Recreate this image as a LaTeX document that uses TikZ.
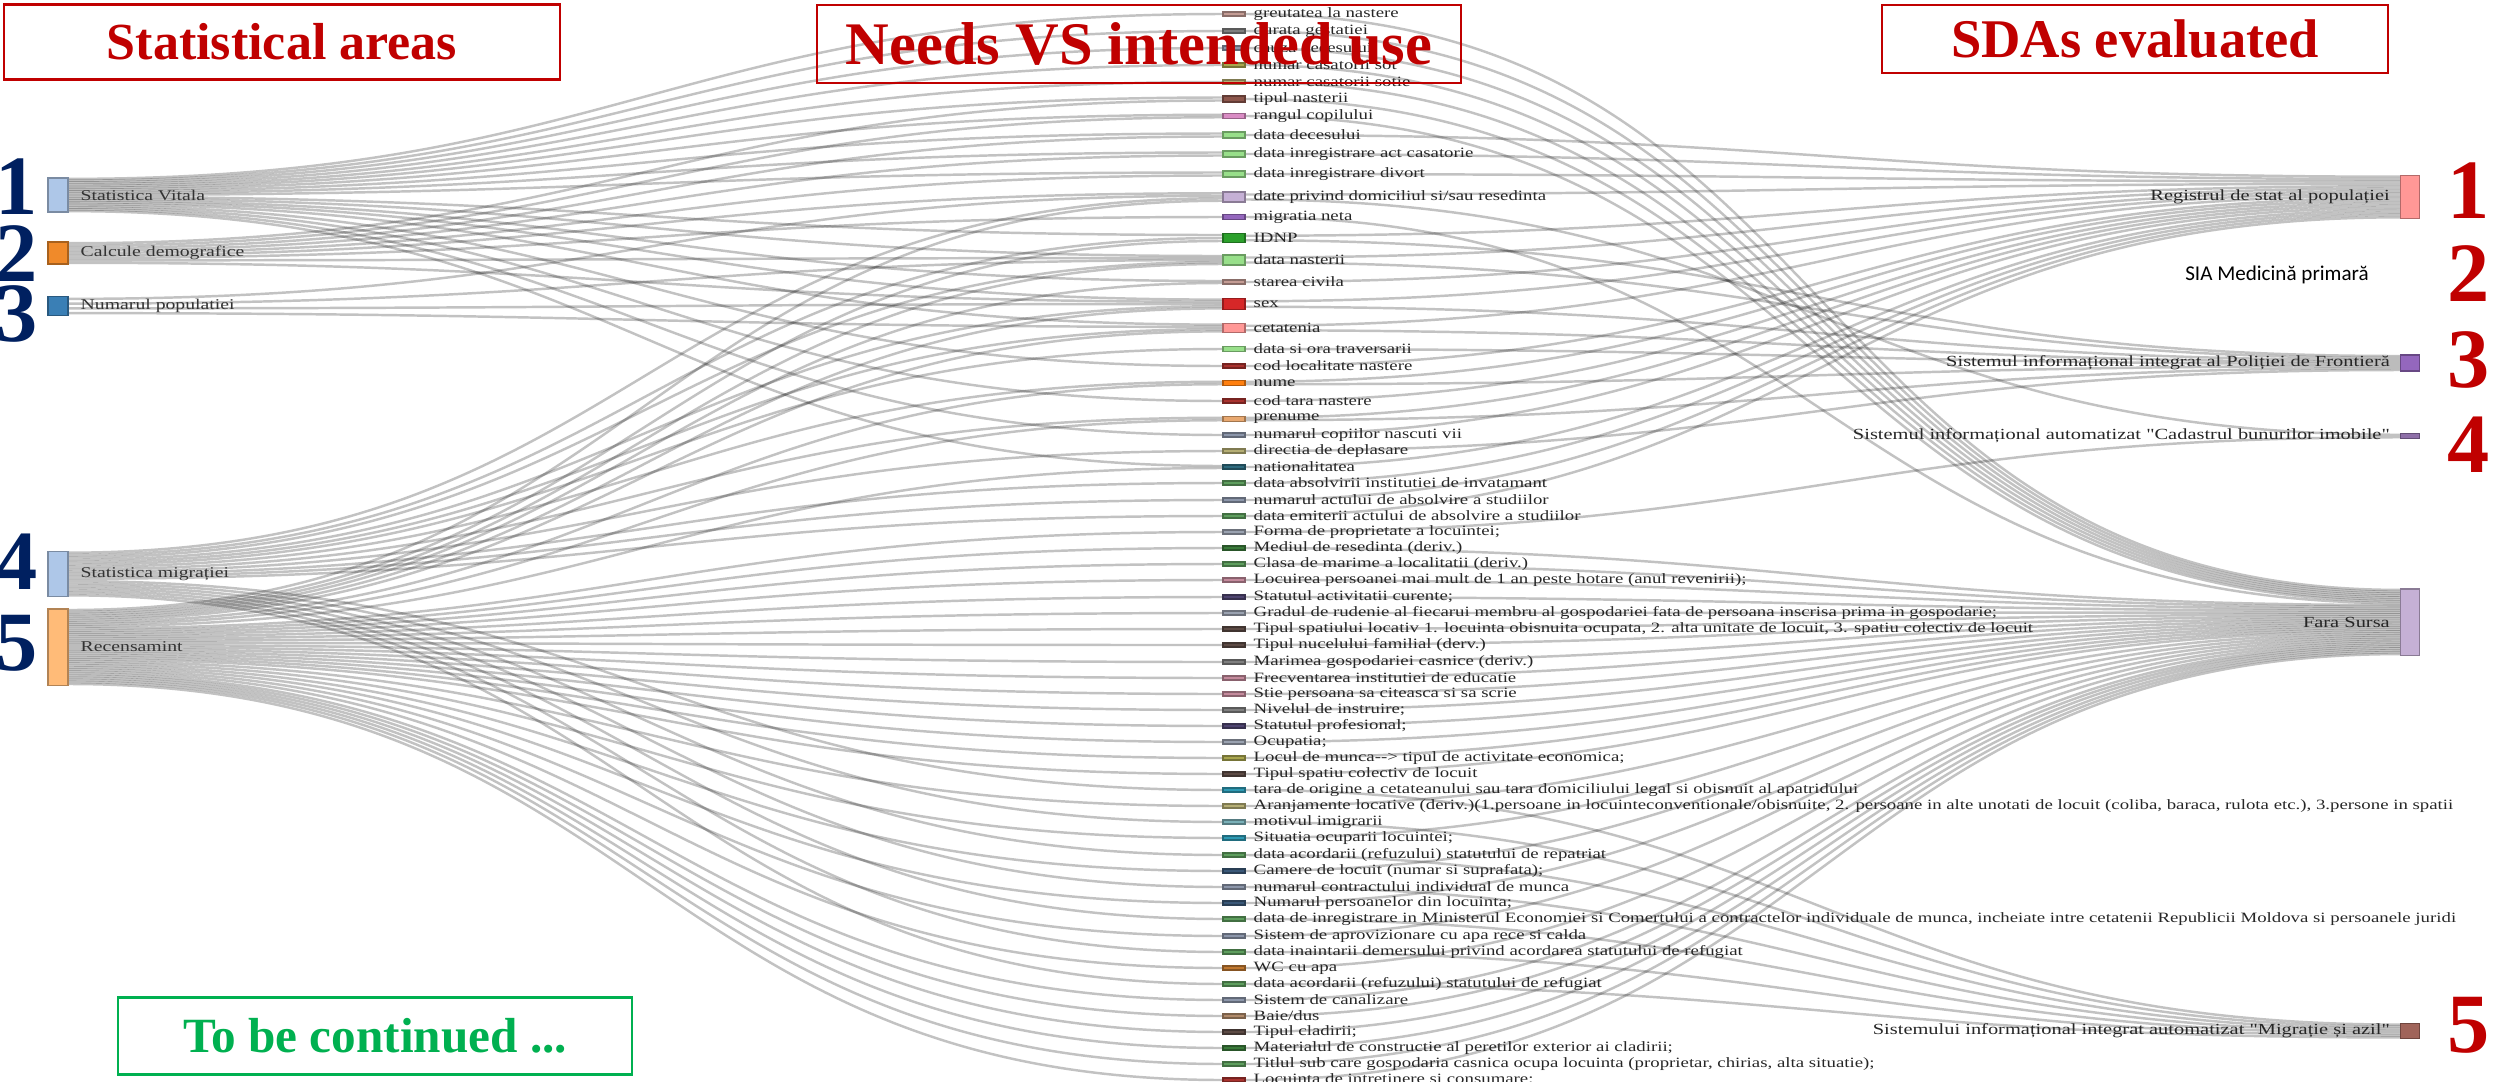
\documentclass[tikz,border=0pt]{standalone}
\usepackage{fontspec}
\setmainfont{Liberation Serif}
\newfontfamily\sankeyfont{Liberation Serif}[FakeStretch=1.32]
\newfontfamily\califont{Carlito}
\usetikzlibrary{positioning,calc,backgrounds}

\definecolor{hdrred}{HTML}{C00000}
\definecolor{hdrgreen}{HTML}{00B050}
\definecolor{navy}{HTML}{002060}
\definecolor{cLBlue}{HTML}{AEC7E8}
\definecolor{cBlue}{HTML}{3A7FB5}
\definecolor{cOrangeL}{HTML}{F08A2A}
\definecolor{cPeach}{HTML}{FFBB78}
\definecolor{cMauve}{HTML}{C49C94}
\definecolor{cGray}{HTML}{7F7F7F}
\definecolor{cGrayBlue}{HTML}{8C96AA}
\definecolor{cOlive}{HTML}{A9A64E}
\definecolor{cKhaki}{HTML}{B5AE74}
\definecolor{cBrown}{HTML}{8C564B}
\definecolor{cPink}{HTML}{D98CC4}
\definecolor{cLGreen}{HTML}{98DF8A}
\definecolor{cLav}{HTML}{C5B0D5}
\definecolor{cPurple}{HTML}{9467BD}
\definecolor{cGreen}{HTML}{2CA02C}
\definecolor{cRed}{HTML}{D62728}
\definecolor{cSalmon}{HTML}{FF9896}
\definecolor{cDRed}{HTML}{A8322E}
\definecolor{cOrange}{HTML}{FF7F0E}
\definecolor{cTanL}{HTML}{E8A870}
\definecolor{cTeal}{HTML}{2E6B7E}
\definecolor{cMGreen}{HTML}{5E9E5E}
\definecolor{cDGreen}{HTML}{3A7A3A}
\definecolor{cRose}{HTML}{C48A9C}
\definecolor{cDPurple}{HTML}{4E4470}
\definecolor{cDBrown}{HTML}{5C4A44}
\definecolor{cCyan}{HTML}{2E9AB4}
\definecolor{cLCyan}{HTML}{7AB0B8}
\definecolor{cNavy}{HTML}{3A5878}
\definecolor{cCopper}{HTML}{C07830}
\definecolor{cTan}{HTML}{B08A6A}
\definecolor{cLGray}{HTML}{9AA2B0}
\definecolor{cPlum}{HTML}{8E6FA8}
\definecolor{cRust}{HTML}{A0645A}

% global counters for stacking the links on the bars
\newcommand\bump[1]{%
  \ifcsname cnt-#1\endcsname\else\expandafter\xdef\csname cnt-#1\endcsname{0}\fi
  \expandafter\xdef\csname cnt-#1\endcsname{\the\numexpr\csname cnt-#1\endcsname+1\relax}}
\newcommand\flow[2]{%
  \bump{kout-#1}\bump{kin-#2}%
  \edef\ka{\csname cnt-kout-#1\endcsname}\edef\na{\csname cnt-nout-#1\endcsname}%
  \edef\kb{\csname cnt-kin-#2\endcsname}\edef\nb{\csname cnt-nin-#2\endcsname}%
  \pgfmathsetmacro\fa{(\ka-0.5)/\na}%
  \pgfmathsetmacro\fb{(\kb-0.5)/\nb}%
  \draw[flow] ($(#1.north east)!\fa!(#1.south east)$) to[out=0,in=180,looseness=1.2]
    ($(#2.north west)!\fb!(#2.south west)$);}

% links: source/target, grouped by the middle item
\def\flowlist{%
  sv/m01, m01/fs, sv/m02, m02/fs, sv/m03, m03/fs, sv/m04, m04/fs, sv/m05, m05/fs,
  sv/m06, cd/m06, m06/fs, sv/m07, cd/m07, m07/fs,
  sv/m08, cd/m08, m08/rsp, sv/m09, cd/m09, m09/rsp, sv/m10, cd/m10, m10/rsp,
  cd/m11, np/m11, sm/m11, rc/m11, m11/rsp, m11/cad,
  cd/m12, m12/fs,
  sv/m13, sm/m13, rc/m13, m13/rsp, m13/pf,
  sv/m14, cd/m14, np/m14, sm/m14, rc/m14, m14/rsp, m14/pf,
  sv/m15, rc/m15, m15/rsp,
  sv/m16, cd/m16, np/m16, sm/m16, rc/m16, m16/rsp, m16/pf,
  sv/m17, np/m17, sm/m17, rc/m17, m17/rsp, m17/pf,
  sm/m18, m18/pf, sv/m19, m19/rsp, sm/m20, rc/m20, m20/rsp, m20/pf,
  sv/m21, m21/rsp, sm/m22, rc/m22, m22/rsp, m22/pf, sv/m23, m23/rsp,
  sm/m24, m24/pf, sv/m25, rc/m25, m25/rsp,
  sm/m26, m26/rsp, sm/m27, m27/rsp, sm/m28, m28/rsp,
  rc/m29, m29/cad,
  rc/m30, m30/fs, rc/m31, m31/fs, rc/m32, m32/fs, rc/m33, m33/fs, rc/m34, m34/fs,
  rc/m35, m35/fs, rc/m36, m36/fs, rc/m37, m37/fs, rc/m38, m38/fs, rc/m39, m39/fs,
  rc/m40, m40/fs, rc/m41, m41/fs, rc/m42, m42/fs, rc/m43, m43/fs, rc/m44, m44/fs,
  sm/m45, m45/ma, rc/m46, m46/fs, sm/m47, m47/ma, rc/m48, m48/fs,
  sm/m49, m49/ma, rc/m50, m50/fs, sm/m51, m51/ma, rc/m52, m52/fs,
  sm/m53, m53/ma, rc/m54, m54/fs, sm/m55, m55/ma, rc/m56, m56/fs,
  sm/m57, m57/ma, rc/m58, m58/fs, rc/m59, m59/fs, rc/m60, m60/fs,
  rc/m61, m61/fs, rc/m62, m62/fs, rc/m63, m63/fs}

\tikzset{
  bar/.style={fill=#1, draw=#1!70!black, line width=0.3pt, minimum width=0.2cm,
    inner sep=0pt, outer sep=0pt},
  flow/.style={draw=black, draw opacity=0.24, line width=0.7pt},
  llbl/.style={font=\sankeyfont\fontsize{4.25}{5}\selectfont, text=black!80, inner sep=0pt},
  mlbl/.style={font=\sankeyfont\fontsize{4.05}{4.5}\selectfont, text=black!85, inner sep=0pt},
  rlbl/.style={font=\sankeyfont\fontsize{4.4}{5}\selectfont, text=black!85, inner sep=0pt},
  hdr/.style={draw=#1, line width=0.6pt, text=#1, inner sep=0pt,
    font=\bfseries\fontsize{15.5}{16}\selectfont},
  numL/.style={text=navy, inner sep=0pt, font=\bfseries\fontsize{24}{24}\selectfont},
  numR/.style={text=hdrred, inner sep=0pt, font=\bfseries\fontsize{24}{24}\selectfont}
}

\begin{document}
\begin{tikzpicture}[x=0.01cm, y=-0.01cm]
  \useasboundingbox (0,0) rectangle (2496,1081);

  % Statistical areas
  \node[bar=cLBlue, minimum height=0.34cm] (sv) at (58,195) {};
  \node[bar=cOrangeL, minimum height=0.22cm] (cd) at (58,253) {};
  \node[bar=cBlue, minimum height=0.19cm] (np) at (58,306) {};
  \node[bar=cLBlue, minimum height=0.45cm] (sm) at (58,574) {};
  \node[bar=cPeach, minimum height=0.76cm] (rc) at (58,647) {};
  \node[llbl, right=0.12cm of sv] (tsv) {Statistica Vitala};
  \node[llbl, right=0.12cm of cd] (tcd) {Calcule demografice};
  \node[llbl, right=0.12cm of np] (tnp) {Numarul populatiei};
  \node[llbl, right=0.12cm of sm] (tsm) {Statistica migrației};
  \node[llbl, right=0.12cm of rc] (trc) {Recensamint};

  % SDAs evaluated
  \node[bar=cSalmon, minimum width=0.19cm, minimum height=0.43cm] (rsp) at (2410,197) {};
  \node[bar=cPurple, minimum width=0.19cm, minimum height=0.16cm] (pf) at (2410,363) {};
  \node[bar=cPlum, minimum width=0.19cm, minimum height=0.05cm] (cad) at (2410,436) {};
  \node[bar=cLav, minimum width=0.19cm, minimum height=0.66cm] (fs) at (2410,622) {};
  \node[bar=cRust, minimum width=0.19cm, minimum height=0.15cm] (ma) at (2410,1031) {};
  \node[rlbl, left=0.1cm of rsp] (trsp) {Registrul de stat al populației};
  \node[font=\califont\fontsize{6}{7}\selectfont, inner sep=0pt] (sia) at (2277,275) {SIA Medicină primară};
  \node[rlbl, left=0.1cm of pf] (tpf) {Sistemul informațional integrat al Poliției de Frontieră};
  \node[rlbl, left=0.1cm of cad] (tcad) {Sistemul informațional automatizat "Cadastrul bunurilor imobile"};
  \node[rlbl, left=0.1cm of fs] (tfs) {Fara Sursa};
  \node[rlbl, left=0.1cm of ma] (tma) {Sistemului informațional integrat automatizat "Migrație și azil"};

  % Needs VS intended use
  \foreach \n/\yy/\hh/\cc/\txt in {
    01/14/4/cMauve/{greutatea la nastere},
    02/31/4/cGray/{durata gestatiei},
    03/48/4/cGrayBlue/{cauza decesului},
    04/65/4/cOlive/{numar casatorii sot},
    05/82/4/cKhaki/{numar casatorii sotie},
    06/99/6/cBrown/{tipul nasterii},
    07/116/5/cPink/{rangul copilului},
    08/135/6/cLGreen/{data decesului},
    09/154/6/cLGreen/{data inregistrare act casatorie},
    10/174/6/cLGreen/{data inregistrare divort},
    11/197/10/cLav/{date privind domiciliul si/sau resedinta},
    12/217/5/cPurple/{migratia neta},
    13/238/9/cGreen/{IDNP},
    14/260/10/cLGreen/{data nasterii},
    15/282/4/cMauve/{starea civila},
    16/304/11/cRed/{sex},
    17/328/9/cSalmon/{cetatenia},
    18/349/5/cLGreen/{data si ora traversarii},
    19/366/4/cDRed/{cod localitate nastere},
    20/383/5/cOrange/{nume},
    21/401/4/cDRed/{cod tara nastere},
    22/419/5/cTanL/{prenume},
    23/435/4/cGrayBlue/{numarul copiilor nascuti vii},
    24/451/4/cKhaki/{directia de deplasare},
    25/467/4/cTeal/{nationalitatea},
    26/483/4/cMGreen/{data absolvirii institutiei de invatamant},
    27/500/4/cGrayBlue/{numarul actului de absolvire a studiilor},
    28/516/4/cMGreen/{data emiterii actului de absolvire a studiilor},
    29/532/4/cLGray/{Forma de proprietate a locuintei;},
    30/548/4/cDGreen/{Mediul de resedinta (deriv.)},
    31/564/4/cMGreen/{Clasa de marime a localitatii (deriv.)},
    32/580/4/cRose/{Locuirea persoanei mai mult de 1 an peste hotare (anul revenirii);},
    33/597/4/cDPurple/{Statutul activitatii curente;},
    34/613/4/cLGray/{Gradul de rudenie al fiecarui membru al gospodariei fata de persoana inscrisa prima in gospodarie;},
    35/629/4/cDBrown/{Tipul spatiului locativ 1. locuinta obisnuita ocupata, 2. alta unitate de locuit, 3. spatiu colectiv de locuit},
    36/645/4/cDBrown/{Tipul nucelului familial (derv.)},
    37/662/4/cGray/{Marimea gospodariei casnice (deriv.)},
    38/678/4/cRose/{Frecventarea institutiei de educatie},
    39/694/4/cRose/{Stie persoana sa citeasca si sa scrie},
    40/710/4/cGray/{Nivelul de instruire;},
    41/726/4/cDPurple/{Statutul profesional;},
    42/742/4/cLGray/{Ocupatia;},
    43/758/4/cOlive/{Locul de munca-{}-> tipul de activitate economica;},
    44/774/4/cDBrown/{Tipul spatiu colectiv de locuit},
    45/790/4/cCyan/{tara de origine a cetateanului sau tara domiciliului legal si obisnuit al apatridului},
    46/806/4/cKhaki/{Aranjamente locative (deriv.)(1.persoane in locuinteconventionale/obisnuite, 2. persoane in alte unotati de locuit (coliba, baraca, rulota etc.), 3.persone in spatii},
    47/822/4/cLCyan/{motivul imigrarii},
    48/838/4/cCyan/{Situatia ocuparii locuintei;},
    49/855/4/cMGreen/{data acordarii (refuzului) statutului de repatriat},
    50/871/4/cNavy/{Camere de locuit (numar si suprafata);},
    51/887/4/cGrayBlue/{numarul contractului individual de munca},
    52/903/4/cNavy/{Numarul persoanelor din locuinta;},
    53/919/4/cMGreen/{data de inregistrare in Ministerul Economiei si Comertului a contractelor individuale de munca, incheiate intre cetatenii Republicii Moldova si persoanele juridi},
    54/936/4/cGrayBlue/{Sistem de aprovizionare cu apa rece si calda},
    55/952/4/cMGreen/{data inaintarii demersului privind acordarea statutului de refugiat},
    56/968/4/cCopper/{WC cu apa},
    57/984/4/cMGreen/{data acordarii (refuzului) statutului de refugiat},
    58/1000/4/cGrayBlue/{Sistem de canalizare},
    59/1016/4/cTan/{Baie/dus},
    60/1032/4/cDBrown/{Tipul cladirii;},
    61/1048/4/cDGreen/{Materialul de constructie al peretilor exterior ai cladirii;},
    62/1064/4/cMGreen/{Titlul sub care gospodaria casnica ocupa locuinta (proprietar, chirias, alta situatie);},
    63/1080/4/cDRed/{Locuinta de intretinere si consumare;}}
  {
    \node[bar=\cc, minimum width=0.22cm, minimum height=\hh*0.01cm] (m\n) at (1234,\yy) {};
    \node[mlbl, right=0.08cm of m\n] (t\n) {\txt};
  }

  % Links
  \foreach \src/\dst in \flowlist {\bump{nout-\src}\bump{nin-\dst}}
  \begin{scope}[on background layer]
    \foreach \src/\dst in \flowlist {\flow{\src}{\dst}}
  \end{scope}

  % Headers
  \node[hdr=hdrred, minimum width=5.55cm, minimum height=0.75cm, font=\bfseries\fontsize{14.8}{15}\selectfont] (hAreas) at (282,42) {Statistical areas};
  \node[hdr=hdrred, minimum width=6.44cm, minimum height=0.78cm, font=\bfseries\fontsize{17.2}{17}\selectfont] (hNeeds) at (1139,44) {Needs VS intended use};
  \node[hdr=hdrred, minimum width=5.05cm, minimum height=0.68cm] (hSDA) at (2135,39) {SDAs evaluated};
  \node[hdr=hdrgreen, minimum width=5.14cm, minimum height=0.77cm, font=\bfseries\fontsize{14}{14}\selectfont] (hCont) at (375,1036) {To be continued ...};

  % Numbers
  \node[numL] (n1) at (17,187) {1};
  \node[numL] (n2) at (17,254) {2};
  \node[numL] (n3) at (17,314) {3};
  \node[numL] (n4) at (17,562) {4};
  \node[numL] (n5) at (17,643) {5};
  \node[numR] (r1) at (2469,191) {1};
  \node[numR] (r2) at (2469,274) {2};
  \node[numR] (r3) at (2469,360) {3};
  \node[numR] (r4) at (2469,445) {4};
  \node[numR] (r5) at (2469,1025) {5};
\end{tikzpicture}
\end{document}
